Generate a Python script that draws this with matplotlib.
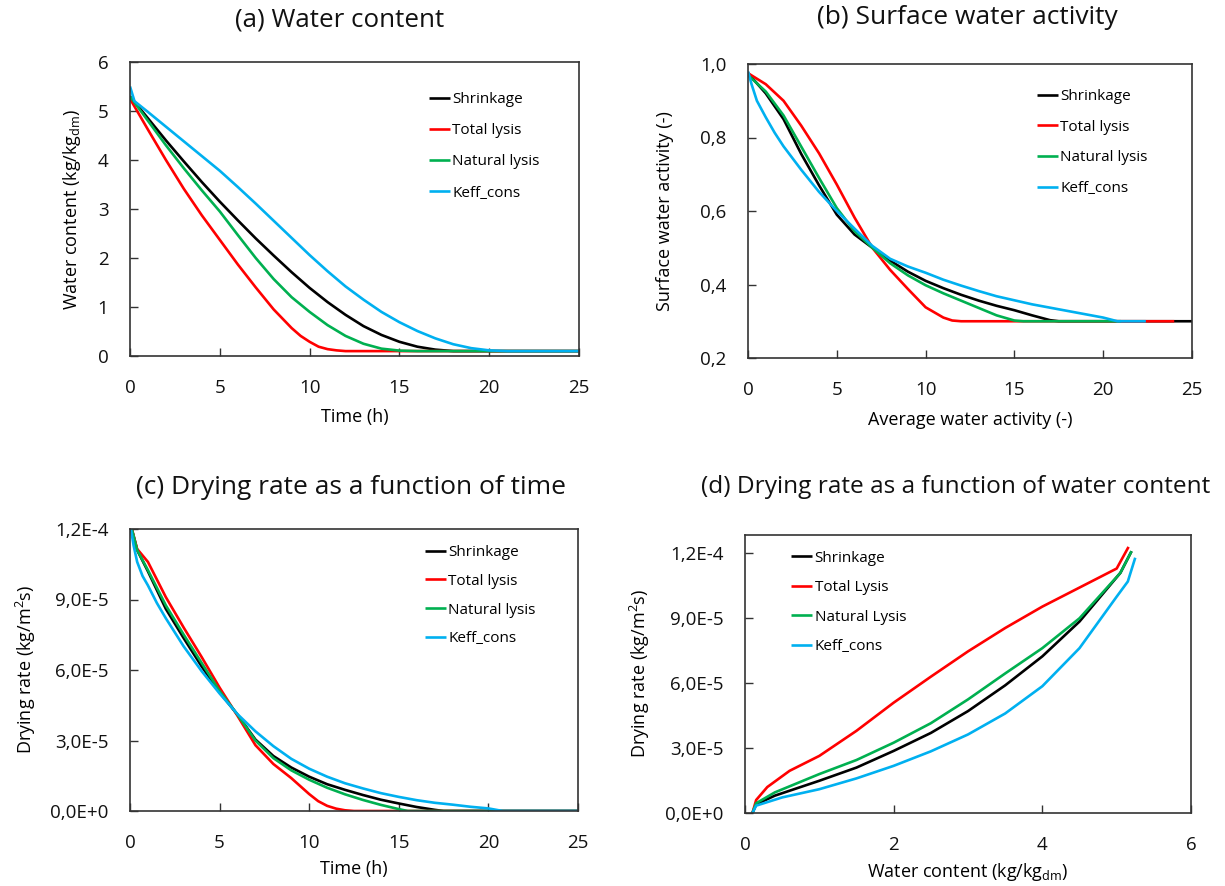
import matplotlib
matplotlib.use('Agg')
import matplotlib.pyplot as plt
import numpy as np

plt.rcParams['font.family'] = ['Open Sans', 'DejaVu Sans']
plt.rcParams['mathtext.fontset'] = 'custom'
plt.rcParams['mathtext.rm'] = 'Open Sans'
plt.rcParams['mathtext.it'] = 'Open Sans:italic'

# ---------------- data ----------------
series_labels = ['Shrinkage', 'Total lysis', 'Natural lysis', 'Keff_cons']
series_labels_d = ['Shrinkage', 'Total Lysis', 'Natural Lysis', 'Keff_cons']

# (a) water content vs time
t_a_black = [0, 1, 2, 3, 4, 5, 6, 7, 8, 9, 10, 11, 12, 13, 14, 15, 16, 17, 18, 25]
wc_black = [5.3, 4.85, 4.4, 3.97, 3.55, 3.15, 2.77, 2.4, 2.05, 1.71, 1.39, 1.1, 0.84, 0.61, 0.43, 0.29, 0.19, 0.13, 0.1, 0.1]
t_a_red = [0, 1, 2, 3, 4, 5, 6, 7, 8, 9, 9.5, 10, 10.5, 11, 11.5, 12, 25]
wc_red = [5.25, 4.62, 4.0, 3.41, 2.87, 2.37, 1.87, 1.4, 0.95, 0.57, 0.41, 0.29, 0.19, 0.14, 0.115, 0.1, 0.1]
t_a_green = [0, 1, 2, 3, 4, 5, 6, 7, 8, 9, 10, 11, 12, 13, 14, 15, 16, 25]
wc_green = [5.3, 4.8, 4.3, 3.83, 3.38, 2.95, 2.47, 2.0, 1.57, 1.2, 0.9, 0.63, 0.41, 0.25, 0.15, 0.11, 0.1, 0.1]
t_a_blue = [0, 0.25, 1, 2, 3, 4, 5, 6, 7, 8, 9, 10, 11, 12, 13, 14, 15, 16, 17, 18, 19, 20, 21, 25]
wc_blue = [5.5, 5.2, 4.98, 4.68, 4.38, 4.08, 3.78, 3.45, 3.11, 2.76, 2.41, 2.06, 1.73, 1.42, 1.15, 0.9, 0.69, 0.51, 0.36, 0.24, 0.16, 0.115, 0.1, 0.1]

# (b) surface water activity
x_b_black = [0, 1, 2, 3, 4, 5, 6, 7, 8, 9, 10, 11, 12, 13, 14, 15, 16, 17, 17.5, 25]
aw_black = [0.975, 0.92, 0.85, 0.755, 0.67, 0.59, 0.536, 0.5, 0.465, 0.435, 0.41, 0.39, 0.372, 0.356, 0.342, 0.33, 0.316, 0.303, 0.3, 0.3]
x_b_red = [0, 1, 2, 3, 4, 5, 6, 7, 8, 9, 10, 11, 11.5, 12, 24]
aw_red = [0.975, 0.945, 0.9, 0.832, 0.757, 0.672, 0.582, 0.5, 0.44, 0.388, 0.338, 0.31, 0.302, 0.3, 0.3]
x_b_green = [0, 1, 2, 3, 4, 5, 6, 7, 8, 9, 10, 11, 12, 13, 14, 15, 15.5, 21]
aw_green = [0.97, 0.925, 0.86, 0.775, 0.69, 0.608, 0.545, 0.5, 0.458, 0.425, 0.398, 0.376, 0.356, 0.336, 0.316, 0.302, 0.3, 0.3]
x_b_blue = [0, 0.2, 0.5, 1, 1.5, 2, 3, 4, 5, 6, 7, 8, 9, 10, 11, 12, 13, 14, 15, 16, 17, 18, 19, 20, 20.8, 22.4]
aw_blue = [0.98, 0.945, 0.9, 0.855, 0.813, 0.776, 0.712, 0.652, 0.6, 0.552, 0.505, 0.47, 0.449, 0.432, 0.413, 0.397, 0.382, 0.368, 0.357, 0.346, 0.337, 0.328, 0.319, 0.31, 0.3, 0.3]

# (c) drying rate vs time (units of 1e-5 kg/m2s)
t_c_black = [0.1, 0.4, 1, 2, 3, 4, 5, 6, 7, 8, 9, 10, 11, 12, 13, 14, 15, 16, 17, 17.5, 25]
rate_c_black = [12.0, 11.1, 10.2, 8.6, 7.35, 6.15, 5.05, 4.1, 3.04, 2.34, 1.85, 1.46, 1.14, 0.9, 0.68, 0.48, 0.32, 0.17, 0.05, 0, 0]
t_c_red = [0.1, 0.4, 1, 2, 3, 4, 5, 6, 7, 8, 9, 10, 10.5, 11, 11.5, 12, 12.5, 25]
rate_c_red = [12.0, 11.15, 10.6, 9.1, 7.8, 6.55, 5.25, 4.05, 2.8, 2.0, 1.4, 0.72, 0.42, 0.22, 0.1, 0.03, 0, 0]
t_c_green = [0.1, 0.4, 1, 2, 3, 4, 5, 6, 7, 8, 9, 10, 11, 12, 13, 14, 15, 15.5, 25]
rate_c_green = [12.0, 11.1, 10.25, 8.75, 7.5, 6.3, 5.1, 4.1, 3.0, 2.25, 1.73, 1.33, 0.99, 0.71, 0.47, 0.26, 0.08, 0, 0]
t_c_blue = [0.05, 0.2, 0.4, 0.7, 1, 1.5, 2, 3, 4, 5, 6, 7, 8, 9, 10, 11, 12, 13, 14, 15, 16, 17, 18, 19, 20, 20.8, 25]
rate_c_blue = [12.0, 11.3, 10.6, 10.0, 9.6, 8.85, 8.2, 7.0, 5.95, 5.0, 4.12, 3.39, 2.76, 2.22, 1.8, 1.46, 1.18, 0.96, 0.76, 0.6, 0.46, 0.35, 0.27, 0.18, 0.11, 0, 0]

# (d) drying rate vs water content (units of 1e-5 kg/m2s)
wc_d_black = [0.1, 0.15, 0.4, 1.0, 1.5, 2.0, 2.5, 3.0, 3.5, 4.0, 4.5, 5.05, 5.2]
rate_d_black = [0, 0.4, 0.8, 1.49, 2.1, 2.87, 3.7, 4.71, 5.9, 7.24, 8.85, 11.1, 12.1]
wc_d_red = [0.1, 0.15, 0.3, 0.6, 1.0, 1.5, 2.0, 2.5, 3.0, 3.5, 4.0, 4.5, 5.0, 5.16]
rate_d_red = [0, 0.6, 1.2, 1.95, 2.64, 3.8, 5.1, 6.3, 7.47, 8.55, 9.54, 10.42, 11.3, 12.3]
wc_d_green = [0.1, 0.15, 0.4, 1.0, 1.5, 2.0, 2.5, 3.0, 3.5, 4.0, 4.5, 5.05, 5.2]
rate_d_green = [0, 0.45, 0.95, 1.8, 2.45, 3.25, 4.15, 5.25, 6.45, 7.62, 9.0, 11.1, 12.1]
wc_d_blue = [0.1, 0.15, 0.5, 1.0, 1.5, 2.0, 2.5, 3.0, 3.5, 4.0, 4.5, 5.0, 5.15, 5.25]
rate_d_blue = [0, 0.34, 0.72, 1.1, 1.6, 2.18, 2.85, 3.63, 4.6, 5.86, 7.62, 10.0, 10.7, 11.8]

rate_unit = 1e-5

xticks_time = [0, 5, 10, 15, 20, 25]
yticks_a = [0, 1, 2, 3, 4, 5, 6]
yticks_b = [0.2, 0.4, 0.6, 0.8, 1.0]
yticklabels_b = ['0,2', '0,4', '0,6', '0,8', '1,0']
yticks_rate = [0, 3e-5, 6e-5, 9e-5, 1.2e-4]
yticklabels_rate = ['0,0E+0', '3,0E-5', '6,0E-5', '9,0E-5', '1,2E-4']
xticks_d = [0, 2, 4, 6]

titles = ['(a) Water content', '(b) Surface water activity',
          '(c) Drying rate as a function of time',
          '(d) Drying rate as a function of water content']

# ---------------- styling ----------------
COLORS = ['#000000', '#FF0000', '#00B050', '#00B0F0']
LW = 1.9
W, H = 1225, 886
TICK_FS = 13.5
LABEL_FS = 13

fig = plt.figure(figsize=(W / 100, H / 100), dpi=100)

def px_axes(l, t, r, b):
    return fig.add_axes([l / W, 1 - b / H, (r - l) / W, (b - t) / H])

axA = px_axes(130, 62, 579, 356)
axB = px_axes(748, 64, 1192, 358)
axC = px_axes(130, 529, 578, 811)
axD = px_axes(745, 535, 1191, 813)

def style(ax):
    for s in ax.spines.values():
        s.set_color('#333333')
        s.set_linewidth(1.2)
    ax.tick_params(direction='in', length=6, width=1, color='#333333',
                   labelsize=TICK_FS, labelcolor='#111111')
    ax.tick_params(axis='x', pad=16.5)
    ax.tick_params(axis='y', pad=15.5)

# (a)
for x, y, c, lab in zip([t_a_black, t_a_red, t_a_green, t_a_blue],
                        [wc_black, wc_red, wc_green, wc_blue], COLORS, series_labels):
    axA.plot(x, y, color=c, lw=LW, label=lab, solid_capstyle='butt')
axA.set_xlim(0, 25)
axA.set_ylim(0, 6)
axA.set_xticks(xticks_time)
axA.set_yticks(yticks_a)
axA.set_xlabel('Time (h)', fontsize=LABEL_FS, va='center')
axA.set_ylabel(r'Water content (kg/kg$_{\mathregular{dm}}$)', fontsize=LABEL_FS, va='center')
axA.xaxis.set_label_coords(0.5, -61 / 294)
axA.yaxis.set_label_coords(-58 / 449, 0.5)

# (b)
for x, y, c, lab in zip([x_b_black, x_b_red, x_b_green, x_b_blue],
                        [aw_black, aw_red, aw_green, aw_blue], COLORS, series_labels):
    axB.plot(x, y, color=c, lw=LW, label=lab, solid_capstyle='butt')
axB.set_xlim(0, 25)
axB.set_ylim(0.2, 1.0)
axB.set_xticks(xticks_time)
axB.set_yticks(yticks_b)
axB.set_yticklabels(yticklabels_b)
axB.set_xlabel('Average water activity (-)', fontsize=LABEL_FS, va='center')
axB.set_ylabel('Surface water activity (-)', fontsize=LABEL_FS, va='center')
axB.xaxis.set_label_coords(0.5, -62 / 294)
axB.yaxis.set_label_coords(-83 / 444, 0.5)

# (c)
for x, y, c, lab in zip([t_c_black, t_c_red, t_c_green, t_c_blue],
                        [rate_c_black, rate_c_red, rate_c_green, rate_c_blue], COLORS, series_labels):
    axC.plot(x, np.array(y) * rate_unit, color=c, lw=LW, label=lab, solid_capstyle='butt')
axC.set_xlim(0, 25)
axC.set_ylim(0, 1.2e-4)
axC.set_xticks(xticks_time)
axC.set_yticks(yticks_rate)
axC.set_yticklabels(yticklabels_rate)
axC.set_xlabel('Time (h)', fontsize=LABEL_FS, va='center')
axC.set_ylabel(r'Drying rate (kg/m$^{\mathregular{2}}$s)', fontsize=LABEL_FS, va='center')
axC.xaxis.set_label_coords(0.5, -58 / 282)
axC.yaxis.set_label_coords(-104 / 448, 0.5)

# (d)
for x, y, c, lab in zip([wc_d_black, wc_d_red, wc_d_green, wc_d_blue],
                        [rate_d_black, rate_d_red, rate_d_green, rate_d_blue], COLORS, series_labels_d):
    axD.plot(x, np.array(y) * rate_unit, color=c, lw=LW, label=lab, solid_capstyle='butt')
axD.set_xlim(0, 6)
axD.set_ylim(0, 1.285e-4)
axD.set_xticks(xticks_d)
axD.set_yticks(yticks_rate)
axD.set_yticklabels(yticklabels_rate)
axD.set_xlabel(r'Water content (kg/kg$_{\mathregular{dm}}$)', fontsize=LABEL_FS, va='center')
axD.set_ylabel(r'Drying rate (kg/m$^{\mathregular{2}}$s)', fontsize=LABEL_FS, va='center')
axD.xaxis.set_label_coords(0.5, -59 / 278)
axD.yaxis.set_label_coords(-105 / 446, 0.5)

legend_pos = {axA: (0.665, 0.898), axB: (0.65, 0.915), axC: (0.658, 0.943), axD: (0.103, 0.943)}
legend_spacing = {axA: 1.06, axB: 1.03, axC: 0.9, axD: 0.94}
for ax in (axA, axB, axC, axD):
    style(ax)
    ax.legend(loc='upper left', bbox_to_anchor=legend_pos[ax], frameon=False,
              handlelength=1.4, handletextpad=0.15, labelspacing=legend_spacing[ax],
              borderpad=0, borderaxespad=0, fontsize=11)

title_pos = [(340, 20), (967, 18), (351, 488), (956, 487)]
title_sizes = [18.6, 19.0, 19.0, 17.6]
for (x, y), t, fs in zip(title_pos, titles, title_sizes):
    fig.text(x / W, 1 - y / H, t, ha='center', va='center', fontsize=fs, color='#111111')

fig.savefig('out.png', dpi=100, facecolor='white')
